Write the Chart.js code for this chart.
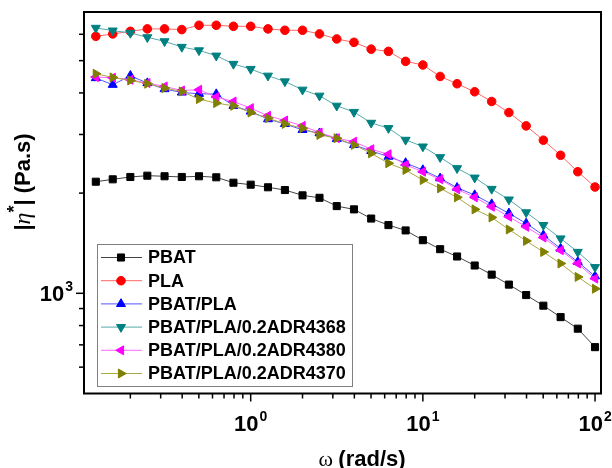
<!DOCTYPE html>
<html>
<head>
<meta charset="utf-8">
<script src="https://cdn.jsdelivr.net/npm/chart.js@4/dist/chart.umd.min.js"></script>
<style>
  html, body { margin: 0; padding: 0; background: #fff; }
</style>
</head>
<body>
<canvas id="chart" width="612" height="468"></canvas>
<script>
// angular frequency (rad/s), 10 points per decade
const omega = [0.126, 0.158, 0.2, 0.251, 0.316, 0.398, 0.501, 0.631, 0.794, 1,
  1.26, 1.58, 2, 2.51, 3.16, 3.98, 5.01, 6.31, 7.94, 10,
  12.6, 15.8, 20, 25.1, 31.6, 39.8, 50.1, 63.1, 79.4, 100];

// |eta*| (Pa.s)
const pbat = [2164, 2200, 2236, 2256, 2247, 2236, 2247, 2231, 2149, 2120,
  2082, 2043, 1969, 1936, 1828, 1787, 1677, 1603, 1545, 1444,
  1357, 1290, 1212, 1138, 1062, 988, 918, 848, 783, 689];
const pla = [5916, 6015, 6125, 6228, 6228, 6198, 6385, 6385, 6341, 6341,
  6228, 6168, 6168, 6015, 5810, 5674, 5413, 5331, 4975, 4852,
  4482, 4262, 4031, 3769, 3492, 3184, 2884, 2598, 2319, 2086];
const pbatPla = [4433, 4232, 4504, 4282, 4108, 4012, 3976, 3968, 3659, 3517,
  3336, 3228, 3097, 3027, 2910, 2791, 2677, 2574, 2464, 2347,
  2216, 2076, 1973, 1854, 1739, 1622, 1495, 1363, 1243, 1125];
const adr4368 = [6270, 6154, 6056, 5875, 5714, 5496, 5367, 5174, 4886, 4719,
  4504, 4329, 4088, 3922, 3659, 3504, 3251, 3134, 2890, 2759,
  2563, 2375, 2225, 2058, 1912, 1750, 1603, 1461, 1331, 1198];
const adr4380 = [4464, 4443, 4381, 4282, 4182, 4068, 4088, 3886, 3769, 3600,
  3414, 3304, 3184, 3040, 2924, 2855, 2709, 2617, 2430, 2319,
  2200, 2053, 1942, 1820, 1698, 1584, 1471, 1347, 1229, 1107];
const adr4370 = [4567, 4452, 4360, 4262, 4136, 4040, 3832, 3727, 3659, 3492,
  3359, 3228, 3134, 2991, 2924, 2791, 2634, 2459, 2347, 2189,
  2067, 1942, 1787, 1690, 1555, 1437, 1331, 1229, 1120, 1032];

const seriesNames = ['PBAT', 'PLA', 'PBAT/PLA', 'PBAT/PLA/0.2ADR4368', 'PBAT/PLA/0.2ADR4380', 'PBAT/PLA/0.2ADR4370'];

// decade exponents that get a "10^n" label
const xTickExps = [0, 1, 2];
const yTickExps = [3];

const FONT = "Arial, 'Liberation Sans', sans-serif";

function series(i, values, color, lineColor, style, rotation, radius) {
  return {
    label: seriesNames[i],
    data: omega.map((x, k) => ({ x: x, y: values[k] })),
    borderColor: lineColor,
    borderWidth: 1,
    backgroundColor: color,
    pointBackgroundColor: color,
    pointBorderColor: color,
    pointBorderWidth: 1,
    pointStyle: style,
    pointRotation: rotation,
    pointRadius: radius,
    tension: 0,
    order: 6 - i
  };
}

const datasets = [
  series(0, pbat, '#000000', '#444444', 'rect', 0, 5),
  series(1, pla, '#ff0000', '#ff6666', 'circle', 0, 4.3),
  series(2, pbatPla, '#0000ff', '#5555ff', 'triangle', 0, 5.2),
  series(3, adr4368, '#008080', '#55aaaa', 'triangle', 180, 5.2),
  series(4, adr4380, '#ff00ff', '#ff66ff', 'triangle', -90, 5.2),
  series(5, adr4370, '#808000', '#aaaa44', 'triangle', 90, 5.2)
];

// labels like 10^n drawn with a real superscript
function drawPow(ctx, exp, x, y, align) {
  ctx.font = 'bold 22px ' + FONT;
  const wb = ctx.measureText('10').width;
  ctx.font = 'bold 14px ' + FONT;
  const ws = ctx.measureText(String(exp)).width;
  const total = wb + ws + 1;
  let x0 = x - total / 2;
  if (align === 'right') x0 = x - total;
  ctx.textAlign = 'left';
  ctx.textBaseline = 'alphabetic';
  ctx.font = 'bold 22px ' + FONT;
  ctx.fillText('10', x0, y);
  ctx.font = 'bold 14px ' + FONT;
  ctx.fillText(String(exp), x0 + wb + 1, y - 10);
}

const decorations = {
  id: 'decorations',
  afterDraw(chart) {
    const ctx = chart.ctx;
    const a = chart.chartArea;
    const xs = chart.scales.x, ys = chart.scales.y;
    ctx.save();
    ctx.fillStyle = '#000';
    ctx.strokeStyle = '#000';

    // frame
    ctx.lineWidth = 2;
    ctx.strokeRect(a.left, a.top, a.right - a.left, a.bottom - a.top);

    // x ticks
    ctx.lineWidth = 1.5;
    for (let d = -1; d <= 2; d++) {
      for (let m = 1; m <= 9; m++) {
        const v = m * Math.pow(10, d);
        if (v <= xs.min || v >= xs.max) continue;
        const px = xs.getPixelForValue(v);
        ctx.beginPath();
        ctx.moveTo(px, a.bottom);
        ctx.lineTo(px, a.bottom + (m === 1 ? 8 : 5));
        ctx.stroke();
      }
    }
    // y ticks
    for (let d = 2; d <= 3; d++) {
      for (let m = 1; m <= 9; m++) {
        const v = m * Math.pow(10, d);
        if (v <= ys.min || v >= ys.max) continue;
        const py = ys.getPixelForValue(v);
        ctx.beginPath();
        ctx.moveTo(a.left, py);
        ctx.lineTo(a.left - (m === 1 ? 8 : 5), py);
        ctx.stroke();
      }
    }

    // tick labels
    xTickExps.forEach(e => drawPow(ctx, e, xs.getPixelForValue(Math.pow(10, e)), 431, 'center'));
    yTickExps.forEach(e => drawPow(ctx, e, 73, ys.getPixelForValue(Math.pow(10, e)) + 8, 'right'));

    // x title
    ctx.textBaseline = 'alphabetic';
    ctx.font = '22px "Liberation Serif", serif';
    const wOm = ctx.measureText('\u03c9 ').width;
    ctx.font = 'bold 22px ' + FONT;
    const wRest = ctx.measureText('(rad/s)').width;
    let tx = 362 - (wOm + wRest) / 2;
    ctx.textAlign = 'left';
    ctx.font = '22px "Liberation Serif", serif';
    ctx.fillText('\u03c9 ', tx, 466);
    ctx.font = 'bold 22px ' + FONT;
    ctx.fillText('(rad/s)', tx + wOm, 466);

    // y title
    ctx.save();
    ctx.translate(30, 182);
    ctx.rotate(-Math.PI / 2);
    const parts = [
      ['bold 22px ' + FONT, '|', 0],
      ['italic 24px "Liberation Serif", serif', '\u03b7', 0],
      ['bold 18px ' + FONT, '*', -10],
      ['bold 22px ' + FONT, '| (Pa.s)', 0]
    ];
    let tw = 0;
    parts.forEach(p => { ctx.font = p[0]; tw += ctx.measureText(p[1]).width; });
    let cx = -tw / 2;
    parts.forEach(p => {
      ctx.font = p[0];
      ctx.fillText(p[1], cx, p[2]);
      cx += ctx.measureText(p[1]).width;
    });
    ctx.restore();

    // legend
    const lx = 97, ly = 244, lw = 255, lh = 142;
    ctx.fillStyle = '#fff';
    ctx.fillRect(lx, ly, lw, lh);
    ctx.strokeStyle = '#808080';
    ctx.lineWidth = 1;
    ctx.strokeRect(lx + 0.5, ly + 0.5, lw, lh);
    chart.data.datasets.forEach((ds, i) => {
      const y = 257.5 + i * 23.2;
      ctx.strokeStyle = ds.borderColor;
      ctx.lineWidth = 1;
      ctx.beginPath();
      ctx.moveTo(101, y);
      ctx.lineTo(142, y);
      ctx.stroke();
      ctx.fillStyle = ds.pointBackgroundColor;
      ctx.strokeStyle = ds.pointBorderColor;
      Chart.helpers.drawPoint(ctx, {
        pointStyle: ds.pointStyle, radius: ds.pointRadius,
        rotation: ds.pointRotation, borderWidth: 1
      }, 121, y);
      ctx.fillStyle = '#000';
      ctx.font = 'bold 18px ' + FONT;
      ctx.textAlign = 'left';
      ctx.textBaseline = 'middle';
      ctx.fillText(ds.label, 148, y + 1);
    });
    ctx.restore();
  }
};

new Chart(document.getElementById('chart'), {
  type: 'line',
  data: { datasets: datasets },
  options: {
    responsive: false,
    animation: false,
    layout: { padding: { top: 12, right: 11, left: 0, bottom: 0 } },
    plugins: { legend: { display: false }, tooltip: { enabled: false } },
    scales: {
      x: {
        type: 'logarithmic', min: 0.1076, max: 108.3,
        grid: { display: false }, border: { display: false },
        ticks: { display: false },
        afterFit: s => { s.height = 74.5; }
      },
      y: {
        type: 'logarithmic', min: 500, max: 7000,
        grid: { display: false }, border: { display: false },
        ticks: { display: false },
        afterFit: s => { s.width = 84; }
      }
    }
  },
  plugins: [decorations]
});
</script>
</body>
</html>
